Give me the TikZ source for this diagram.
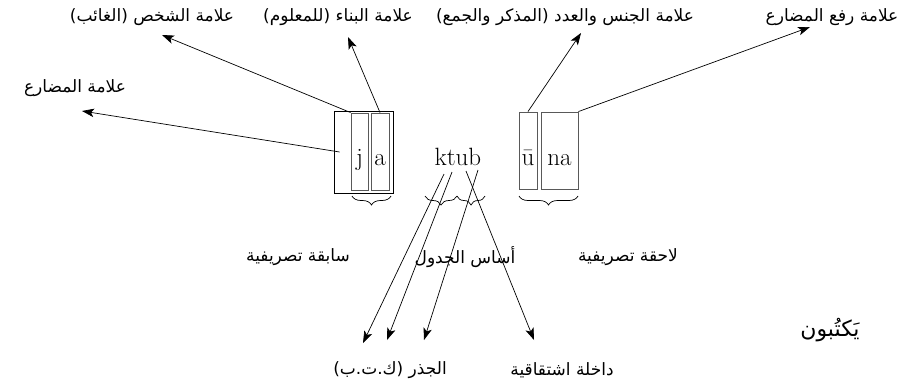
\documentclass[tikz,border=0pt]{standalone}
\usepackage{fontspec}
\usetikzlibrary{arrows.meta,decorations.pathreplacing,calc}
\newfontfamily\arabicfont[Script=Arabic]{DejaVu Sans}
\TeXXeTstate=1
\newcommand{\AR}[1]{\arabicfont\beginR #1\endR}
\begin{document}
\begin{tikzpicture}[x=1pt,y=-1pt,
  ar/.style={font=\arabicfont\fontsize{17}{20}\selectfont, inner sep=0pt},
  lat/.style={font=\fontsize{25}{28}\selectfont, inner sep=0pt, anchor=base},
  conn/.style={line width=0.7pt, -{Stealth[length=12pt,width=8.5pt,inset=3pt]}},
  outbox/.style={draw=black, line width=0.7pt, inner sep=0pt},
  mbox/.style={draw=black!65, line width=0.9pt, inner sep=0pt, minimum height=77pt},
  brc/.style={decorate, decoration={brace, mirror, amplitude=9pt}, line width=0.7pt}
]
\useasboundingbox (0,0) rectangle (907,389);

% top labels
\node[ar] (l1) at (152,17) {\AR{علامة الشخص (الغائب)}};
\node[ar] (l2) at (338,17) {\AR{علامة البناء (للمعلوم)}};
\node[ar] (l3) at (565,17) {\AR{علامة الجنس والعدد (المذكر والجمع)}};
\node[ar] (l4) at (832,17) {\AR{علامة رفع المضارع}};
\node[ar] (l0) at (75,88) {\AR{علامة المضارع}};

% arrow heads (free ends)
\coordinate (h0) at (82,111);
\coordinate (h1) at (162,35);
\coordinate (h2) at (348,37);
\coordinate (h3) at (581,33);
\coordinate (h4) at (810,27);

% boxes
\node[outbox, minimum width=59pt, minimum height=82pt] (jaout) at (363.5,152) {};
\node[mbox, minimum width=17pt] (jbox) at (359.5,151.5) {};
\node[mbox, minimum width=18pt] (abox) at (380,151.5) {};
\node[mbox, minimum width=18pt] (ubox) at (528,150.5) {};
\node[mbox, minimum width=37pt] (nabox) at (559.5,150.5) {};

% letters
\node[lat] (tj) at (359.5,165) {j};
\node[lat] (ta) at (380,165) {a};
\node[lat] (ktub) at (458,165) {ktub};
\node[lat] (tu) at (528,165) {ū};
\node[lat] (tna) at (559.5,165) {na};

% arrows to top labels
\draw[conn] ([xshift=6pt]jaout.west) -- (h0);
\draw[conn] (jbox.north west) -- (h1);
\draw[conn] (abox.north) -- (h2);
\draw[conn] (ubox.north) -- (h3);
\draw[conn] (nabox.north east) -- (h4);

% braces
\draw[brc] (352,196) -- (391,196);
\draw[brc] (425,196) -- (457,196);
\draw[brc] (457,196) -- (485,196);
\draw[brc] (519,196) -- (578,196);

% middle labels
\node[ar] (pre) at (298,257) {\AR{سابقة تصريفية}};
\node[ar] (bas) at (465,257) {\AR{أساس الجدول}};
\node[ar] (suf) at (628,257) {\AR{لاحقة تصريفية}};

% bottom labels
\node[ar] (root) at (390,370) {\AR{الجذر (ك.ت.ب)}};
\node[ar] (infix) at (562,370) {\AR{داخلة اشتقاقية}};
\node[ar, font=\arabicfont\fontsize{22}{26}\selectfont] (word) at (830,330) {\AR{يَكتُبون}};

% arrows from ktub
\coordinate (k1) at ($(ktub.base)+(-14,9)$);
\coordinate (k2) at ($(ktub.base)+(-6,7)$);
\coordinate (k3) at ($(ktub.base)+(8,6)$);
\coordinate (k4) at ($(ktub.base)+(20,5)$);
\coordinate (t1) at (363,343);
\coordinate (t2) at (387,340);
\coordinate (t3) at (424,340);
\coordinate (t4) at (534,340);
\draw[conn] (k1) -- (t1);
\draw[conn] (k2) -- (t2);
\draw[conn] (k4) -- (t3);
\draw[conn] (k3) -- (t4);
\end{tikzpicture}
\end{document}
